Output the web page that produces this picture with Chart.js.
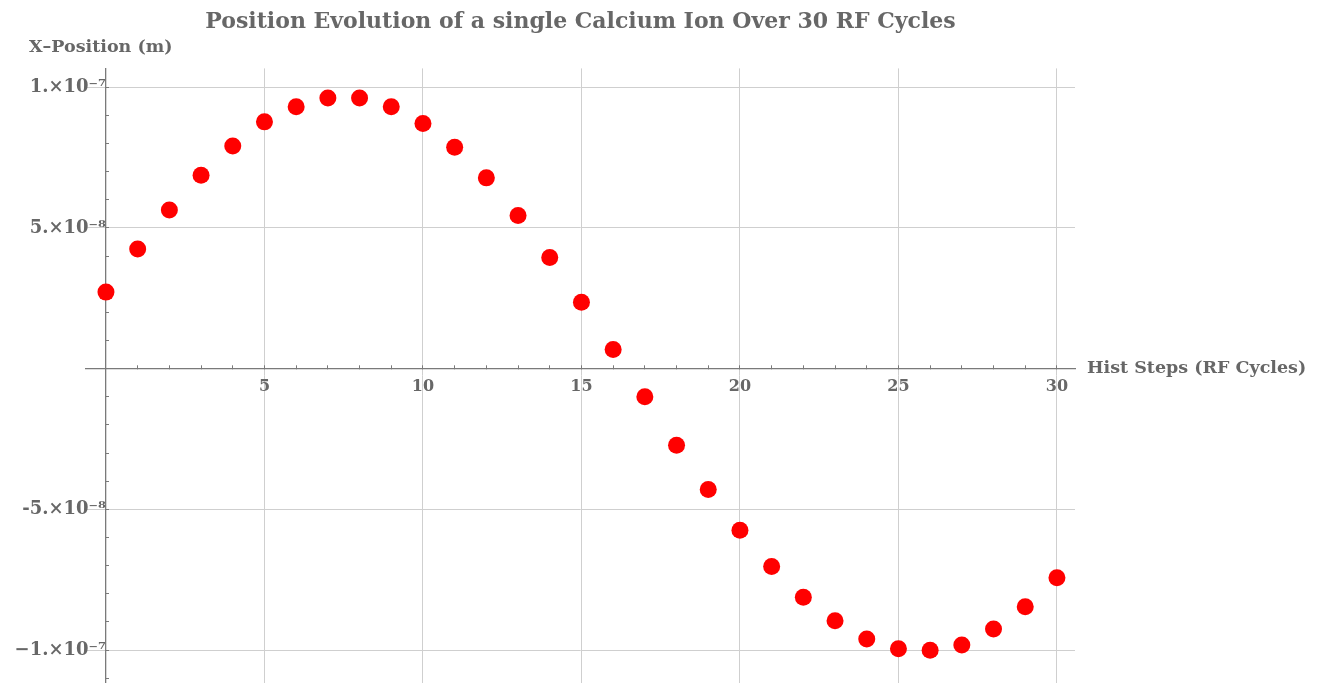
<!DOCTYPE html>
<html>
<head>
<meta charset="utf-8">
<script src="https://cdn.jsdelivr.net/npm/chart.js@4/dist/chart.umd.min.js"></script>
<style>
  html, body { margin: 0; padding: 0; background: #fff; }
  #wrap { width: 1323px; height: 683px; }
</style>
</head>
<body>
<div id="wrap"><canvas id="chart-ion"></canvas></div>
<script>
// hist steps (RF cycles)
var steps = [0, 1, 2, 3, 4, 5, 6, 7, 8, 9, 10, 11, 12, 13, 14, 15, 16, 17, 18, 19, 20,
	21, 22, 23, 24, 25, 26, 27, 28, 29, 30];
// x position of the ion (m)
var xPosition = [2.72e-8, 4.25e-8, 5.64e-8, 6.87e-8, 7.91e-8, 8.77e-8, 9.31e-8, 9.62e-8,
	9.62e-8, 9.31e-8, 8.71e-8, 7.87e-8, 6.78e-8, 5.44e-8, 3.95e-8, 2.36e-8, 0.68e-8,
	-1.00e-8, -2.72e-8, -4.29e-8, -5.74e-8, -7.03e-8, -8.12e-8, -8.96e-8, -9.61e-8,
	-9.95e-8, -10.01e-8, -9.82e-8, -9.25e-8, -8.46e-8, -7.43e-8];

var xTickLabels = ['5', '10', '15', '20', '25', '30'];
var yTickValues = [-1e-7, -5e-8, 5e-8, 1e-7];
var yTickLabels = ['\u22121.\u00d710\u207b\u2077', '-5.\u00d710\u207b\u2078', '5.\u00d710\u207b\u2078', '1.\u00d710\u207b\u2077'];

var chartTitle = 'Position Evolution of a single Calcium Ion Over 30 RF Cycles';
var xAxisTitle = 'Hist Steps (RF Cycles)';
var yAxisTitle = 'X\u2013Position (m)';

var textColor = '#676767';
var axisColor = '#7a7a7a';
var gridColor = '#cfcfcf';
var fontFamily = '"DejaVu Serif", Georgia, serif';

function yLabelFor(value) {
	for (var i = 0; i < yTickValues.length; i++) {
		if (Math.abs(value - yTickValues[i]) < 1e-10) return yTickLabels[i];
	}
	return null;
}

// axis names drawn next to the axes, like Mathematica's AxesLabel
var axisNames = {
	id: 'axisNames',
	afterDraw: function(chart) {
		var ctx = chart.ctx;
		var xs = chart.scales.x, ys = chart.scales.y;
		var y0 = ys.getPixelForValue(0);
		ctx.save();
		ctx.fillStyle = textColor;
		ctx.font = 'bold 17.5px ' + fontFamily;
		ctx.textBaseline = 'middle';
		ctx.textAlign = 'left';
		ctx.fillText(xAxisTitle, xs.right + 12, y0);
		ctx.fillText(yAxisTitle, xs.getPixelForValue(0) - 77, ys.top - 21);
		ctx.restore();
	}
};

// drop the room Chart.js keeps for half tick labels at the ends of the value axis
function noEndPadding(scale) {
	scale.paddingTop = 0;
	scale.paddingBottom = 0;
}

var points = steps.map(function(s, i) { return {x: s, y: xPosition[i]}; });

var configIon = {
	type: 'scatter',
	data: {
		datasets: [{
			data: points,
			backgroundColor: '#ff0000',
			borderWidth: 0,
			pointRadius: 8.5,
			pointHoverRadius: 8.5
		}]
	},
	options: {
		responsive: true,
		maintainAspectRatio: false,
		animation: false,
		layout: {
			autoPadding: false,
			padding: { left: 86, right: 248, top: 0, bottom: 0 }
		},
		plugins: {
			legend: { display: false },
			tooltip: { enabled: false },
			title: {
				display: true,
				text: chartTitle,
				color: textColor,
				font: { family: fontFamily, size: 22, weight: 'bold' },
				padding: { top: 9, bottom: 33 }
			}
		},
		scales: {
			x: {
				type: 'linear',
				position: { y: 0 },
				min: -0.63,
				max: 30.57,
				grid: {
					color: function(c) {
						var v = c.tick.value;
						return (v !== 0 && Math.abs(v % 5) < 1e-9) ? gridColor : 'rgba(0,0,0,0)';
					},
					lineWidth: 1,
					tickColor: axisColor,
					tickLength: -4
				},
				border: { color: axisColor, width: 1.3 },
				ticks: {
					stepSize: 1,
					includeBounds: false,
					autoSkip: false,
					maxRotation: 0,
					padding: 13,
					color: textColor,
					font: { family: fontFamily, size: 16, weight: 'bold' },
					callback: function(value) {
						var s = String(value);
						return xTickLabels.indexOf(s) >= 0 ? s : '';
					}
				}
			},
			y: {
				type: 'linear',
				position: { x: 0 },
				min: -1.117e-7,
				max: 1.067e-7,
				afterFit: noEndPadding,
				grid: {
					color: function(c) {
						return yLabelFor(c.tick.value) ? gridColor : 'rgba(0,0,0,0)';
					},
					lineWidth: 1,
					tickColor: axisColor,
					tickLength: -4
				},
				border: { color: axisColor, width: 1.3 },
				ticks: {
					stepSize: 1e-8,
					includeBounds: false,
					autoSkip: false,
					padding: 10,
					color: textColor,
					font: { family: fontFamily, size: 18, weight: 'bold' },
					callback: function(value) {
						return yLabelFor(value) || '';
					}
				}
			}
		}
	},
	plugins: [axisNames]
};

var ctx = document.getElementById('chart-ion').getContext('2d');
window.chartIon = new Chart(ctx, configIon);
</script>
</body>
</html>
